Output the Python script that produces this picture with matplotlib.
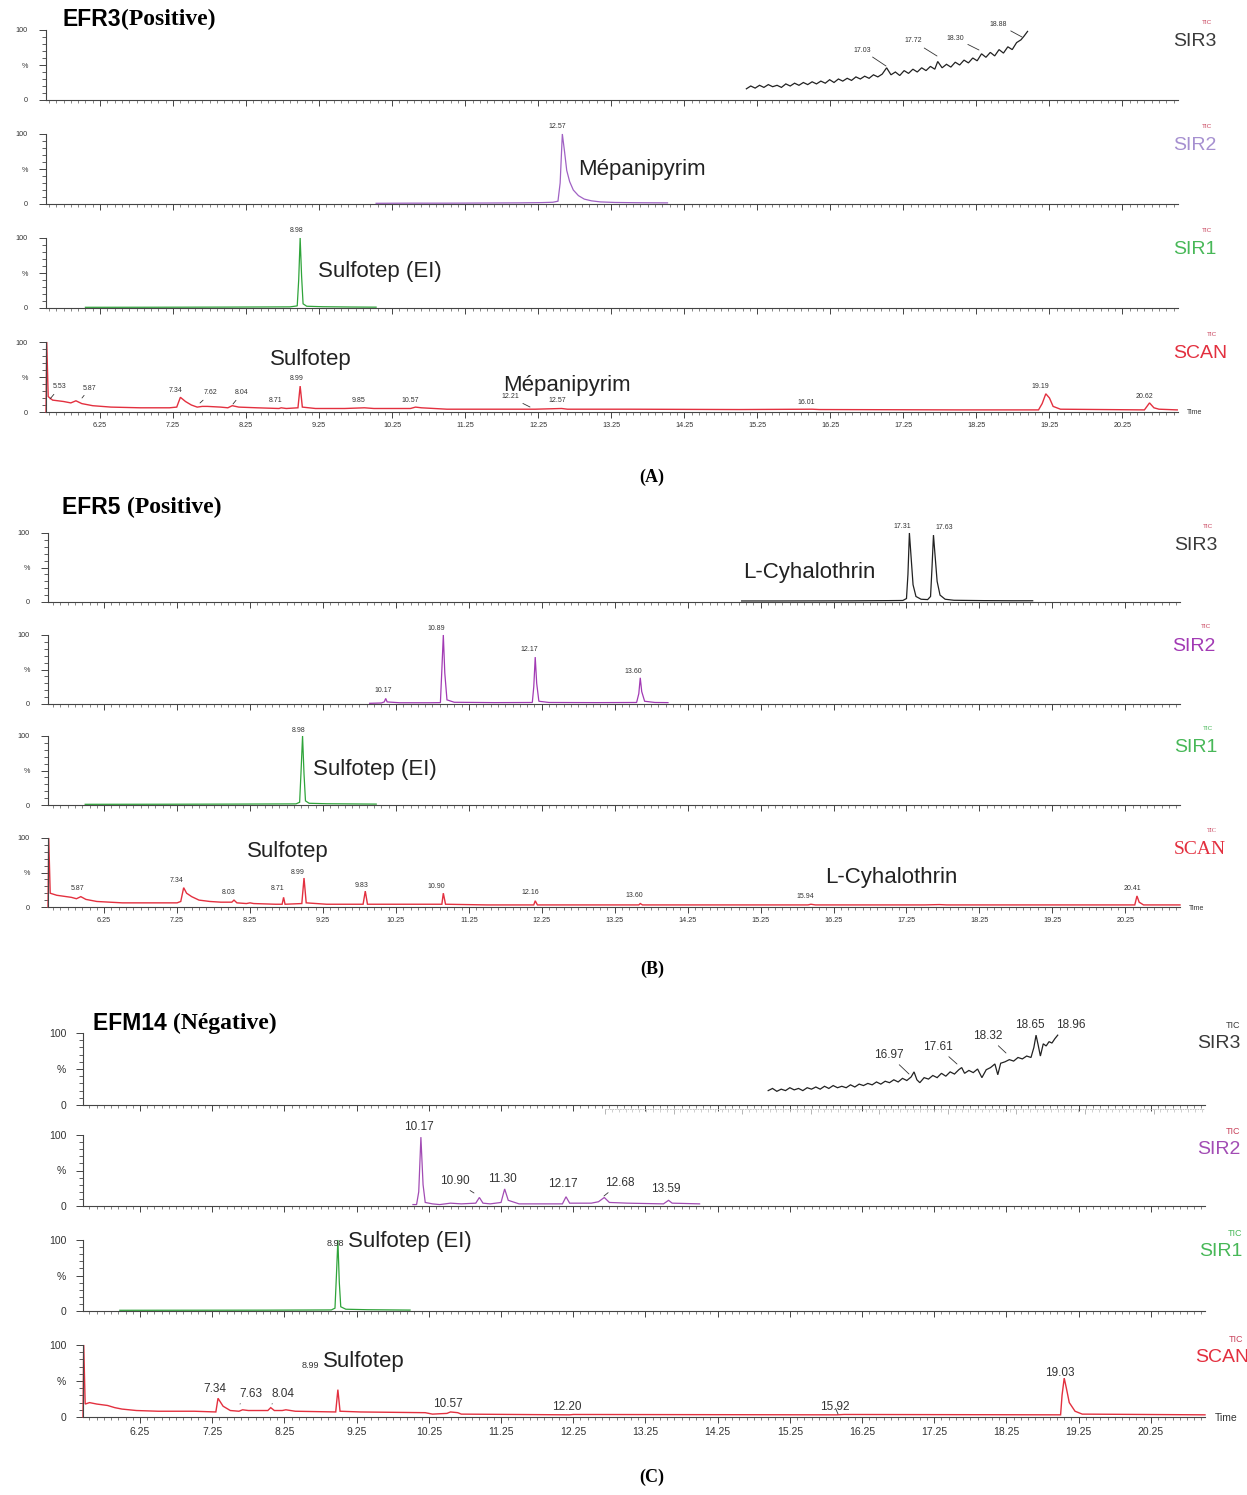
import matplotlib
matplotlib.use("Agg")
import matplotlib.pyplot as plt
import numpy as np
from matplotlib.ticker import FixedLocator, FixedFormatter, NullFormatter

W, H = 1247, 1495
SANS = ["Liberation Sans", "DejaVu Sans"]
SERIF = ["Liberation Serif", "DejaVu Serif"]
plt.rcParams["font.family"] = SANS

# ---------------- data ----------------
XTICKS = [6.25, 7.25, 8.25, 9.25, 10.25, 11.25, 12.25, 13.25, 14.25,
          15.25, 16.25, 17.25, 18.25, 19.25, 20.25]
XTICK_LABELS = ["6.25", "7.25", "8.25", "9.25", "10.25", "11.25", "12.25", "13.25",
                "14.25", "15.25", "16.25", "17.25", "18.25", "19.25", "20.25"]
YTICKS = [0, 50, 100]
YTICK_LABELS = ["0", "%", "100"]

# Panel A (EFR3 Positive)
A_SIR3 = [(15.10, 16), (15.16, 20), (15.22, 17), (15.28, 21), (15.34, 18), (15.40, 22),
          (15.46, 19), (15.52, 21), (15.58, 18), (15.64, 23), (15.70, 20), (15.76, 24),
          (15.82, 21), (15.88, 25), (15.94, 22), (16.00, 26), (16.06, 23), (16.12, 27),
          (16.18, 24), (16.24, 29), (16.30, 25), (16.36, 30), (16.42, 27), (16.48, 31),
          (16.54, 28), (16.60, 33), (16.66, 30), (16.72, 34), (16.78, 31), (16.84, 36),
          (16.90, 33), (16.96, 37), (17.02, 46), (17.08, 36), (17.14, 40), (17.20, 35),
          (17.26, 42), (17.32, 38), (17.38, 44), (17.44, 40), (17.50, 46), (17.56, 42),
          (17.62, 48), (17.68, 44), (17.72, 55), (17.78, 46), (17.84, 51), (17.90, 47),
          (17.96, 54), (18.02, 50), (18.08, 57), (18.14, 53), (18.20, 60), (18.26, 56),
          (18.32, 66), (18.38, 61), (18.44, 68), (18.50, 63), (18.56, 72), (18.62, 67),
          (18.68, 76), (18.74, 72), (18.80, 82), (18.86, 86), (18.90, 91), (18.95, 98)]
A_SIR2 = [(10.03, 1.0), (10.5, 1.2), (11.0, 1.2), (11.5, 1.4), (12.0, 1.6), (12.3, 2.0),
          (12.45, 2.5), (12.52, 4), (12.55, 30), (12.58, 100), (12.61, 75), (12.64, 48),
          (12.68, 32), (12.73, 20), (12.80, 12), (12.88, 7), (12.98, 4.5), (13.1, 3),
          (13.3, 2.2), (13.6, 1.8), (14.02, 1.6)]
A_SIR1 = [(6.05, 1.0), (7.0, 1.1), (8.0, 1.3), (8.85, 1.6), (8.95, 3), (8.97, 40),
          (8.99, 100), (9.01, 45), (9.03, 6), (9.08, 2.5), (9.3, 1.8), (9.7, 1.4), (10.03, 1.2)]
A_SCAN = [(5.51, 0), (5.52, 100), (5.54, 22), (5.60, 17), (5.75, 15), (5.85, 13), (5.92, 16),
          (6.00, 12), (6.15, 9), (6.40, 7), (6.80, 6), (7.20, 6), (7.30, 7), (7.35, 21),
          (7.42, 15), (7.50, 10), (7.58, 7), (7.65, 8), (7.72, 8), (7.90, 7), (8.00, 6),
          (8.06, 9), (8.15, 7), (8.40, 6), (8.70, 5), (8.73, 6), (8.80, 5), (8.96, 6),
          (8.99, 37), (9.02, 7), (9.20, 5), (9.60, 5), (9.87, 6), (10.0, 5),
          (10.5, 5), (10.57, 7), (10.65, 6), (11.0, 4), (12.0, 4), (12.21, 4), (12.57, 5),
          (12.65, 4), (13.5, 4), (15.0, 3.5), (16.0, 4), (16.1, 3.5), (18.0, 3), (19.1, 3),
          (19.15, 12), (19.20, 26), (19.25, 20), (19.30, 8), (19.40, 4), (20.55, 3),
          (20.62, 13), (20.68, 6), (20.75, 4), (21.0, 3)]

# Panel B (EFR5 Positive)
B_SIR3 = [(14.99, 1.5), (15.5, 1.5), (16.0, 1.6), (16.5, 1.7), (17.0, 2), (17.2, 2.2),
          (17.25, 5), (17.27, 40), (17.29, 100), (17.31, 70), (17.34, 25), (17.38, 8),
          (17.45, 4), (17.54, 3.5), (17.58, 8), (17.60, 50), (17.62, 97), (17.64, 70),
          (17.67, 30), (17.71, 10), (17.78, 4), (17.9, 2.5), (18.3, 2), (18.7, 1.8), (18.98, 1.8)]
B_SIR2 = [(9.89, 1), (10.05, 1.5), (10.09, 3), (10.11, 8), (10.13, 3), (10.3, 1.8),
          (10.7, 1.8), (10.86, 2), (10.88, 50), (10.90, 100), (10.92, 45), (10.95, 6),
          (11.05, 2.5), (11.6, 2), (12.12, 2.2), (12.14, 25), (12.16, 68), (12.18, 30),
          (12.21, 4), (12.35, 2.2), (13.0, 2), (13.55, 2.2), (13.58, 15), (13.60, 38),
          (13.62, 18), (13.66, 4), (13.8, 2.2), (13.98, 2)]
B_SIR1 = [(5.99, 1.0), (7.0, 1.1), (8.0, 1.3), (8.88, 1.6), (8.93, 4), (8.95, 50),
          (8.97, 100), (8.99, 45), (9.01, 6), (9.06, 2.5), (9.3, 1.8), (9.98, 1.3)]
B_SCAN = [(5.48, 0), (5.49, 100), (5.51, 20), (5.60, 17), (5.80, 14), (5.87, 12), (5.93, 15),
          (6.00, 11), (6.15, 8), (6.50, 6), (7.00, 6), (7.25, 6), (7.30, 8), (7.34, 28),
          (7.38, 20), (7.45, 15), (7.55, 10), (7.70, 8), (7.85, 7), (8.00, 7), (8.03, 10),
          (8.07, 6), (8.20, 5), (8.25, 6), (8.30, 5), (8.60, 4), (8.69, 4), (8.71, 14),
          (8.73, 4), (8.96, 5), (8.99, 42), (9.02, 6), (9.30, 4), (9.80, 4),
          (9.83, 23), (9.86, 4), (10.3, 4), (10.88, 4), (10.90, 20), (10.93, 4), (11.5, 3),
          (12.14, 3), (12.16, 9), (12.19, 3), (13.58, 3), (13.60, 5), (13.63, 3), (15.9, 3),
          (15.94, 4), (16.0, 3), (17.5, 3), (17.7, 3.5), (17.8, 3), (20.38, 3), (20.41, 16),
          (20.44, 7), (20.5, 3), (21.0, 3)]

# Panel C (EFM14 Negative)
C_SIR3 = [(14.95, 20), (15.01, 23), (15.07, 19), (15.13, 22), (15.19, 20), (15.25, 24),
          (15.31, 21), (15.37, 23), (15.43, 20), (15.49, 24), (15.55, 22), (15.61, 25),
          (15.67, 22), (15.73, 26), (15.79, 23), (15.85, 27), (15.91, 24), (15.97, 26),
          (16.03, 24), (16.09, 28), (16.15, 25), (16.21, 29), (16.27, 27), (16.33, 30),
          (16.39, 28), (16.45, 32), (16.51, 29), (16.57, 33), (16.63, 31), (16.69, 35),
          (16.75, 32), (16.81, 37), (16.87, 34), (16.93, 39), (16.97, 46), (17.01, 35),
          (17.05, 31), (17.11, 38), (17.17, 36), (17.23, 41), (17.29, 38), (17.35, 44),
          (17.41, 40), (17.47, 46), (17.53, 43), (17.59, 49), (17.63, 52), (17.67, 44),
          (17.73, 48), (17.79, 45), (17.85, 50), (17.91, 38), (17.97, 49), (18.03, 52),
          (18.09, 57), (18.13, 42), (18.17, 58), (18.23, 60), (18.29, 63), (18.35, 61),
          (18.41, 66), (18.47, 64), (18.53, 68), (18.59, 66), (18.63, 80), (18.66, 97),
          (18.69, 83), (18.72, 68), (18.76, 85), (18.80, 82), (18.84, 88), (18.88, 86),
          (18.92, 92), (18.96, 97)]
C_SIR2 = [(10.03, 2), (10.08, 2), (10.11, 20), (10.14, 97), (10.17, 30), (10.20, 5),
          (10.30, 3), (10.40, 2), (10.55, 4), (10.70, 3), (10.90, 4), (10.95, 12), (11.0, 4),
          (11.1, 3), (11.25, 5), (11.30, 24), (11.35, 8), (11.5, 3), (12.1, 3), (12.15, 13),
          (12.2, 4), (12.5, 4), (12.6, 6), (12.68, 12), (12.75, 5), (13.0, 4), (13.5, 3),
          (13.57, 8), (13.62, 4), (14.0, 3)]
C_SIR1 = [(5.97, 1.0), (7.0, 1.1), (8.0, 1.2), (8.9, 1.5), (8.95, 4), (8.97, 50),
          (8.99, 100), (9.01, 40), (9.03, 6), (9.1, 2.5), (9.4, 1.8), (9.99, 1.3)]
C_SCAN = [(5.46, 0), (5.47, 100), (5.49, 18), (5.55, 20), (5.65, 18), (5.80, 16), (5.90, 13),
          (6.00, 11), (6.20, 9), (6.50, 8), (7.00, 8), (7.30, 7), (7.33, 26), (7.40, 15),
          (7.50, 9), (7.62, 8), (7.67, 10), (7.75, 9), (8.02, 9), (8.06, 13), (8.11, 9),
          (8.22, 9), (8.27, 10), (8.40, 8), (8.96, 7), (8.99, 38), (9.02, 8),
          (9.30, 7), (10.2, 6), (10.3, 4), (10.5, 5), (10.55, 7), (10.65, 6), (10.7, 4),
          (12.2, 3), (12.25, 3.5), (15.9, 3), (16.0, 3.5), (19.0, 3), (19.02, 30), (19.05, 54),
          (19.08, 40), (19.12, 20), (19.20, 8), (19.30, 4), (21.0, 3)]

# ---------------- figure ----------------
fig = plt.figure(figsize=(W / 100, H / 100), dpi=100)
fig.patch.set_facecolor("white")


def fx(x):
    return x / W


def fy(y):
    return 1 - y / H


def ftext(x, y, s, **kw):
    kw.setdefault("ha", "center")
    kw.setdefault("va", "center")
    return fig.text(fx(x), fy(y), s, **kw)


def leader(ax, s, xt, yt, xp, yp, fs, color="#333333"):
    ax.annotate(s, xy=(fx(xp), fy(yp)), xycoords="figure fraction",
                xytext=(fx(xt), fy(yt)), textcoords="figure fraction",
                ha="center", va="center", fontsize=fs, color=color,
                annotation_clip=False,
                arrowprops=dict(arrowstyle="-", lw=0.6, color=color,
                                shrinkA=1, shrinkB=0))


def make_ax(left, right, y0, y100, xlim, big, xlabels):
    ax = fig.add_axes([fx(left), fy(y0), (right - left) / W, (y0 - y100) / H])
    ax.set_xlim(*xlim)
    ax.set_ylim(0, 100)
    ax.patch.set_alpha(0)
    for s in ("top", "right"):
        ax.spines[s].set_visible(False)
    for s in ("left", "bottom"):
        ax.spines[s].set_color("#444444")
        ax.spines[s].set_linewidth(0.8)
    ax.yaxis.set_major_locator(FixedLocator(YTICKS))
    ax.yaxis.set_major_formatter(FixedFormatter(YTICK_LABELS))
    ax.yaxis.set_minor_locator(FixedLocator(list(range(0, 101, 10))))
    ax.xaxis.set_major_locator(FixedLocator(XTICKS))
    ax.xaxis.set_minor_locator(FixedLocator(list(np.arange(5.55, 21.0, 0.1))))
    tfs = 7.5 if big else 5.2
    yfs = 7.5 if big else 5.2
    ax.tick_params(axis="y", which="major", length=5, width=0.7, color="#444444",
                   labelsize=yfs, labelcolor="#333333", pad=7 if big else 8)
    ax.tick_params(axis="y", which="minor", length=3, width=0.6, color="#444444")
    ax.tick_params(axis="x", which="major", length=4, width=0.7, color="#444444",
                   labelsize=tfs, labelcolor="#333333", pad=3)
    ax.tick_params(axis="x", which="minor", length=2.2, width=0.5, color="#555555")
    if xlabels:
        ax.xaxis.set_major_formatter(FixedFormatter(XTICK_LABELS))
    else:
        ax.xaxis.set_major_formatter(NullFormatter())
    return ax


def trace(ax, pts, color, lw=0.9):
    t = [p[0] for p in pts]
    v = [p[1] for p in pts]
    ax.plot(t, v, color=color, lw=lw, clip_on=False, solid_joinstyle="miter")


BLACK = "#222222"
GREEN = "#2fa43a"
RED = "#e3303f"

# ===== Panel A =====
rowsA = [(30, 100), (134, 204), (238, 308), (342, 412)]
axA = [make_ax(46, 1178, y0, y1, (5.51, 21.01), False, i == 3)
       for i, (y1, y0) in enumerate(rowsA)]
trace(axA[0], A_SIR3, BLACK, 0.9)
trace(axA[1], A_SIR2, "#a062c4")
trace(axA[2], A_SIR1, GREEN)
trace(axA[3], A_SCAN, RED, 1.0)

fsA = 5.0
leader(axA[0], "17.03", 862, 50, 886, 66, fsA)
leader(axA[0], "17.72", 913, 41, 937, 56, fsA)
leader(axA[0], "18.30", 955, 38, 979, 50, fsA)
leader(axA[0], "18.88", 998, 24, 1022, 37, fsA)
ftext(557, 127, "12.57", fontsize=fsA, color="#333333")
ftext(297, 231, "8.98", fontsize=fsA, color="#333333")
leader(axA[3], "5.53", 60, 387, 50, 399, fsA)
leader(axA[3], "5.87", 90, 388, 82, 398, fsA)
ftext(176, 390, "7.34", fontsize=fsA, color="#333333")
leader(axA[3], "7.62", 211, 393, 200, 403, fsA)
leader(axA[3], "8.04", 242, 393, 233, 404, fsA)
ftext(276, 401, "8.71", fontsize=fsA, color="#333333")
ftext(297, 379, "8.99", fontsize=fsA, color="#333333")
ftext(359, 401, "9.85", fontsize=fsA, color="#333333")
ftext(410, 400, "10.57", fontsize=fsA, color="#333333")
leader(axA[3], "12.21", 510, 397, 530, 407, fsA)
ftext(557, 401, "12.57", fontsize=fsA, color="#333333")
ftext(806, 402, "16.01", fontsize=fsA, color="#333333")
ftext(1040, 387, "19.19", fontsize=fsA, color="#333333")
ftext(1144, 396, "20.62", fontsize=fsA, color="#333333")

ftext(578, 170, "Mépanipyrim", fontsize=16, ha="left", color="#222222")
ftext(318, 271, "Sulfotep (EI)", fontsize=16, ha="left", color="#222222")
ftext(311, 360, "Sulfotep", fontsize=16, color="#222222")
ftext(503, 385, "Mépanipyrim", fontsize=16, ha="left", color="#222222")
ftext(1195, 413, "Time", fontsize=5, color="#333333")

# ===== Panel B =====
rowsB = [(533, 602), (635, 704), (736, 805), (838, 907)]
axB = [make_ax(48, 1180, y0, y1, (5.48, 21.0), False, i == 3)
       for i, (y1, y0) in enumerate(rowsB)]
trace(axB[0], B_SIR3, BLACK)
trace(axB[1], B_SIR2, "#a23ab4")
trace(axB[2], B_SIR1, GREEN)
trace(axB[3], B_SCAN, RED, 1.0)

for s, x, y in [("17.31", 902, 526), ("17.63", 944, 528), ("10.89", 436, 628),
                ("12.17", 529, 650), ("13.60", 633, 671), ("10.17", 383, 690),
                ("8.98", 299, 730), ("5.87", 78, 889), ("7.34", 177, 881),
                ("8.03", 229, 893), ("8.71", 278, 889), ("8.99", 298, 873),
                ("9.83", 362, 885), ("10.90", 436, 887), ("12.16", 530, 893),
                ("13.60", 634, 895), ("15.94", 805, 897), ("20.41", 1132, 888)]:
    ftext(x, y, s, fontsize=fsA, color="#333333")

ftext(743, 573, "L-Cyhalothrin", fontsize=16, ha="left", color="#222222")
ftext(313, 769, "Sulfotep (EI)", fontsize=16, ha="left", color="#222222")
ftext(288, 852, "Sulfotep", fontsize=16, color="#222222")
ftext(825, 877, "L-Cyhalothrin", fontsize=16, ha="left", color="#222222")
ftext(1197, 908, "Time", fontsize=5, color="#333333")

# ===== Panel C =====
rowsC = [(1033, 1105), (1135, 1206), (1240, 1311), (1345, 1417)]
axC = [make_ax(83, 1205, y0, y1, (5.46, 21.0), True, i == 3)
       for i, (y1, y0) in enumerate(rowsC)]
trace(axC[0], C_SIR3, BLACK, 0.9)
trace(axC[1], C_SIR2, "#a24cb4")
trace(axC[2], C_SIR1, GREEN)
trace(axC[3], C_SCAN, RED, 1.0)

# faint secondary tick row under the C / SIR3 axis
axd = fig.add_axes([fx(605), fy(1109), (1205 - 605) / W, 0.0005])
axd.set_xlim(12.25, 21.0)
axd.patch.set_alpha(0)
for s in ("top", "right", "left"):
    axd.spines[s].set_visible(False)
axd.spines["bottom"].set_color("#bbbbbb")
axd.spines["bottom"].set_linestyle((0, (1, 2)))
axd.spines["bottom"].set_linewidth(0.6)
axd.set_yticks([])
axd.xaxis.set_major_locator(FixedLocator(XTICKS))
axd.xaxis.set_minor_locator(FixedLocator(list(np.arange(12.35, 21.0, 0.1))))
axd.xaxis.set_major_formatter(NullFormatter())
axd.tick_params(axis="x", which="major", length=3.5, width=0.6, color="#aaaaaa")
axd.tick_params(axis="x", which="minor", length=2, width=0.5, color="#bbbbbb")

fsC = 8.5
leader(axC[0], "16.97", 889, 1055, 909, 1074, fsC)
leader(axC[0], "17.61", 938, 1047, 957, 1064, fsC)
leader(axC[0], "18.32", 988, 1036, 1006, 1053, fsC)
ftext(1030, 1025, "18.65", fontsize=fsC, color="#333333")
ftext(1071, 1025, "18.96", fontsize=fsC, color="#333333")
ftext(419, 1127, "10.17", fontsize=fsC, color="#333333")
leader(axC[1], "10.90", 455, 1181, 474, 1193, fsC)
ftext(502, 1179, "11.30", fontsize=fsC, color="#333333")
ftext(563, 1184, "12.17", fontsize=fsC, color="#333333")
leader(axC[1], "12.68", 620, 1183, 604, 1196, fsC)
ftext(666, 1189, "13.59", fontsize=fsC, color="#333333")
ftext(335, 1243, "8.98", fontsize=6.5, color="#333333")
ftext(215, 1389, "7.34", fontsize=fsC, color="#333333")
leader(axC[3], "7.63", 251, 1394, 240, 1404, fsC)
leader(axC[3], "8.04", 283, 1394, 272, 1404, fsC)
ftext(310, 1366, "8.99", fontsize=6.5, color="#333333")
ftext(448, 1404, "10.57", fontsize=fsC, color="#333333")
ftext(567, 1407, "12.20", fontsize=fsC, color="#333333")
leader(axC[3], "15.92", 835, 1407, 838, 1414, fsC)
ftext(1060, 1373, "19.03", fontsize=fsC, color="#333333")

ftext(348, 1241, "Sulfotep (EI)", fontsize=16, ha="left", color="#222222")
ftext(323, 1362, "Sulfotep", fontsize=16, ha="left", color="#222222")
ftext(1226, 1418, "Time", fontsize=7.5, color="#333333")

# ---------- right-hand channel labels ----------
TICC = "#c8405a"
for (x, y, s, c, tc, fam) in [
        (1195, 42, "SIR3", "#3a3a3a", TICC, SANS),
        (1195, 146, "SIR2", "#a690d0", TICC, SANS),
        (1195, 250, "SIR1", "#48b858", TICC, SANS),
        (1200, 354, "SCAN", RED, TICC, SANS),
        (1196, 545, "SIR3", "#3a3a3a", TICC, SANS),
        (1194, 646, "SIR2", "#a23ab4", TICC, SANS),
        (1196, 748, "SIR1", "#48b858", "#48b858", SANS),
        (1200, 850, "SCAN", RED, TICC, SERIF),
        (1219, 1043, "SIR3", "#3a3a3a", "#3a3a3a", SANS),
        (1219, 1149, "SIR2", "#a24cb4", TICC, SANS),
        (1221, 1251, "SIR1", "#48b858", "#48b858", SANS),
        (1222, 1357, "SCAN", RED, TICC, SANS)]:
    ftext(x, y, s, fontsize=14, color=c, family=fam)
    big = y > 1000
    ftext(x + (14 if big else 12), y - (17 if big else 19), "TIC",
          fontsize=6.5 if big else 4.5, color=tc, family=fam)

# ---------- titles ----------
renderer = fig.canvas.get_renderer()


def title(x, y, a, b):
    ta = ftext(x, y, a, fontsize=16.5, fontweight="bold", ha="left", family=SANS)
    bb = ta.get_window_extent(renderer=renderer)
    fig.text(bb.x1 / W, fy(y), b, fontsize=17, fontweight="bold", ha="left",
             va="center", family=SERIF)


title(62, 19, "EFR3", "(Positive)")
title(62, 507, "EFR5 ", "(Positive)")
title(93, 1023, "EFM14 ", "(Négative)")

for s, y in [("(A)", 477), ("(B)", 969), ("(C)", 1477)]:
    ftext(652, y, s, fontsize=13, fontweight="bold", family=SERIF)

fig.savefig("out.png", dpi=100, facecolor="white")
